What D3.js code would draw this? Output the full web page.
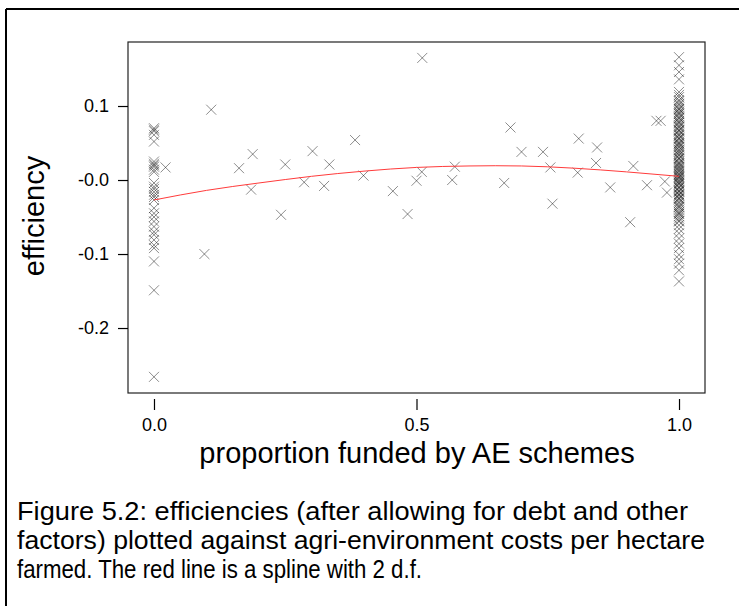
<!DOCTYPE html>
<html>
<head>
<meta charset="utf-8">
<script src="https://cdn.jsdelivr.net/npm/d3@7"></script>
<style>
  body { margin: 0; background: #fff; overflow: hidden; }
  svg { display: block; }
  text { font-family: "Liberation Sans", Arial, sans-serif; }
</style>
</head>
<body>
<svg id="mySvg"></svg>
<script>
const svgWidth = 739;
const svgHeight = 606;

// farms with no AE funding (x = 0)
const zeroFunded = [0.070, 0.068, 0.066, 0.061, 0.052, 0.025, 0.022, 0.020, 0.018, 0.014, 0.011,
  -0.004, -0.009, -0.012, -0.016, -0.020, -0.023, -0.027, -0.038, -0.045, -0.050, -0.056,
  -0.063, -0.070, -0.074, -0.081, -0.088, -0.092, -0.110, -0.149, -0.266];

// farms fully funded by AE schemes (x = 1)
const fullFunded = [0.166, 0.155, 0.146, 0.136,
  0.119, 0.115, 0.112, 0.108, 0.106, 0.103, 0.101, 0.098, 0.096, 0.095, 0.092, 0.090,
  0.089, 0.086, 0.084, 0.083, 0.080, 0.078, 0.077, 0.074, 0.072, 0.071, 0.068, 0.067,
  0.066, 0.063, 0.061, 0.060, 0.057, 0.056, 0.055, 0.052, 0.050, 0.049, 0.047, 0.045,
  0.044, 0.041, 0.040, 0.038, 0.036, 0.034, 0.033, 0.030, 0.029, 0.028, 0.025, 0.023,
  0.022, 0.020, 0.018, 0.017, 0.015, 0.013, 0.012, 0.010, 0.008, 0.007, 0.005, 0.004,
  0.003, 0.001, -0.001, -0.002, -0.004, -0.005, -0.006, -0.009, -0.010, -0.011, -0.014,
  -0.015, -0.016, -0.019, -0.020, -0.021, -0.024, -0.025, -0.026, -0.029, -0.031, -0.034,
  -0.036, -0.037, -0.040, -0.043, -0.045, -0.046, -0.049, -0.052, -0.055, -0.056,
  -0.061, -0.066, -0.072, -0.079, -0.086, -0.092, -0.101, -0.107, -0.113, -0.122, -0.137];

// farms in between
const midX = [0.022, 0.096, 0.109, 0.162, 0.185, 0.188, 0.242, 0.250, 0.286, 0.302,
  0.324, 0.334, 0.383, 0.399, 0.455, 0.483, 0.500, 0.510, 0.511, 0.568,
  0.573, 0.667, 0.679, 0.700, 0.741, 0.755, 0.759, 0.807, 0.809, 0.842,
  0.844, 0.869, 0.907, 0.913, 0.939, 0.957, 0.965, 0.973, 0.977];
const midY = [0.017, -0.100, 0.095, 0.016, -0.013, 0.035, -0.047, 0.021, -0.003, 0.039,
  -0.008, 0.021, 0.054, 0.006, -0.015, -0.046, -0.001, 0.011, 0.165, 0.000,
  0.018, -0.004, 0.071, 0.038, 0.038, 0.017, -0.032, 0.010, 0.056, 0.023,
  0.044, -0.010, -0.057, 0.019, -0.007, 0.080, 0.080, -0.002, -0.017];

// spline with 2 d.f.
const splineX = [0, 0.1, 0.2, 0.3, 0.4, 0.5, 0.6, 0.7, 0.8, 0.9, 1.0];
const splineY = [-0.027, -0.014, -0.004, 0.005, 0.012, 0.017, 0.019, 0.019, 0.016, 0.011, 0.005];

const xTicks = [0, 0.5, 1];
const xTickLabels = ["0.0", "0.5", "1.0"];
const yTicks = [0.1, 0, -0.1, -0.2];
const yTickLabels = ["0.1", "-0.0", "-0.1", "-0.2"];

const captionLines = [
  "Figure 5.2: efficiencies (after allowing for debt and other",
  "factors) plotted against agri-environment costs per hectare",
  "farmed. The red line is a spline with 2 d.f."
];
const captionWidths = [671, 688, 405];

const svg = d3.select("#mySvg")
    .attr("width", svgWidth)
    .attr("height", svgHeight);

// outer frame, only top and left edges are in view
svg.append("line").attr("x1", 6).attr("y1", 9).attr("x2", svgWidth).attr("y2", 9)
    .attr("stroke", "#000").attr("stroke-width", 2);
svg.append("line").attr("x1", 6).attr("y1", 9).attr("x2", 6).attr("y2", svgHeight)
    .attr("stroke", "#000").attr("stroke-width", 2);

const box = { left: 128, right: 705, top: 42, bottom: 393 };

const x = d3.scaleLinear().domain([-0.0495, 1.0495]).range([box.left, box.right]);
const y = d3.scaleLinear().domain([-0.2878, 0.1865]).range([box.bottom, box.top]);

// points
const points = [];
zeroFunded.forEach(v => points.push([0, v]));
midX.forEach((v, i) => points.push([v, midY[i]]));
fullFunded.forEach(v => points.push([1, v]));

const s = 5;
svg.append("g").selectAll("path")
    .data(points)
    .enter()
    .append("path")
    .attr("d", d => {
        const px = x(d[0]), py = y(d[1]);
        return `M${px - s},${py - s}L${px + s},${py + s}M${px - s},${py + s}L${px + s},${py - s}`;
    })
    .attr("stroke", "#000")
    .attr("stroke-opacity", 0.45)
    .attr("stroke-width", 1)
    .attr("fill", "none");

// spline
const line = d3.line()
    .x((d, i) => x(splineX[i]))
    .y(d => y(d))
    .curve(d3.curveNatural);

svg.append("path")
    .datum(splineY)
    .attr("d", line)
    .attr("fill", "none")
    .attr("stroke", "#ff3b3b")
    .attr("stroke-width", 1);

// plot box
svg.append("rect")
    .attr("x", box.left).attr("y", box.top)
    .attr("width", box.right - box.left).attr("height", box.bottom - box.top)
    .attr("fill", "none").attr("stroke", "#222").attr("stroke-width", 1.2);

// y axis
const yAxis = svg.append("g")
    .attr("transform", `translate(${box.left},0)`)
    .call(d3.axisLeft(y).tickValues(yTicks)
        .tickFormat((d, i) => yTickLabels[i])
        .tickSize(10).tickSizeOuter(0).tickPadding(9));
yAxis.select(".domain").remove();
yAxis.selectAll("line").attr("stroke", "#000").attr("stroke-width", 1.2);
yAxis.selectAll("text").attr("font-size", 18).attr("fill", "#000")
    .attr("font-family", "'Liberation Sans', Arial, sans-serif");

// x axis
const xAxis = svg.append("g")
    .attr("transform", `translate(0,${box.bottom + 6})`)
    .call(d3.axisBottom(x).tickValues(xTicks)
        .tickFormat((d, i) => xTickLabels[i])
        .tickSize(11).tickSizeOuter(0).tickPadding(8));
xAxis.select(".domain").remove();
xAxis.selectAll("line").attr("stroke", "#000").attr("stroke-width", 1.2);
xAxis.selectAll("text").attr("font-size", 18).attr("fill", "#000")
    .attr("font-family", "'Liberation Sans', Arial, sans-serif");

// axis titles
svg.append("text")
    .text("proportion funded by AE schemes")
    .attr("x", 417).attr("y", 463)
    .attr("text-anchor", "middle")
    .attr("font-size", 29)
    .attr("fill", "#000");

svg.append("text")
    .text("efficiency")
    .attr("transform", "translate(44,216) rotate(-90)")
    .attr("text-anchor", "middle")
    .attr("font-size", 29)
    .attr("fill", "#000");

// caption
svg.selectAll(".caption")
    .data(captionLines)
    .enter()
    .append("text")
    .attr("class", "caption")
    .text(d => d)
    .attr("x", 17)
    .attr("y", (d, i) => 520 + i * 29)
    .attr("font-size", 25)
    .attr("textLength", (d, i) => captionWidths[i])
    .attr("lengthAdjust", "spacingAndGlyphs")
    .attr("fill", "#000");
</script>
</body>
</html>
